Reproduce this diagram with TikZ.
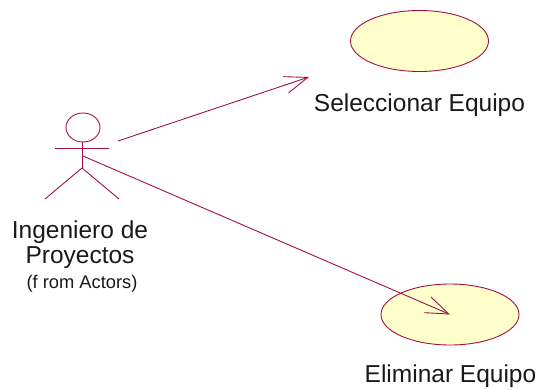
\documentclass[tikz,border=0pt]{standalone}
\usepackage{fontspec}
\setmainfont{Liberation Sans}
\usetikzlibrary{positioning,arrows.meta,shapes.geometric}
\definecolor{umlline}{HTML}{A50F45}
\definecolor{umlfill}{HTML}{FFFFCC}
\newcommand{\UseCaseRx}{69pt}
\newcommand{\UseCaseRy}{30.5pt}
\tikzset{
	usecase/.style={ellipse,draw=umlline,fill=umlfill,line width=0.9pt,minimum width=2*\UseCaseRx,minimum height=2*\UseCaseRy,inner sep=0pt},
	umlname/.style={font=\fontsize{24.5}{25.5}\selectfont,text=black!90,align=center,inner sep=0pt},
	actorline/.style={draw=umlline,line width=0.9pt},
	assoc/.style={actorline,-{Straight Barb[length=23pt,width=17pt]}},
}
\begin{document}
\begin{tikzpicture}[x=1pt,y=-1pt]
		\useasboundingbox (0,0) rectangle (541,389);
		\node[usecase] (sel) at (419.5,41) {};
		\node[usecase] (eli) at (450,314.5) {};
		\node[umlname] (sellabel) at (419.5,105) {Seleccionar Equipo};
		\node[umlname] (elilabel) at (450.5,376.5) {Eliminar Equipo};
		% actor
		\node[draw=umlline,line width=0.9pt,ellipse,minimum width=34pt,minimum height=29pt,inner sep=0pt] (head) at (83,127.5) {};
		\coordinate (hip) at (82,168);
		\coordinate (armleft) at (55,148.5);
		\coordinate (armright) at (109,148.5);
		\coordinate (footleft) at (45,199);
		\coordinate (footright) at (119,199);
		\draw[actorline] (82,141.5) -- (hip);
		\draw[actorline] (armleft) -- (armright);
		\draw[actorline] (footleft) -- (hip) -- (footright);
		\node[umlname] (actorlabel) at (80,244.5) {Ingeniero de\\Proyectos};
		\node[font=\fontsize{18.3}{20}\selectfont,text=black!90,inner sep=0pt,below=6.5pt of actorlabel,xshift=2pt] (actorfrom) {(f rom Actors)};
		% associations
		\coordinate (selstart) at (118,141);
		\coordinate (selend) at (309,77);
		\coordinate (elistart) at (83,156);
		\draw[assoc] (selstart) -- (selend);
		\draw[assoc] (elistart) -- (eli.center);
	\end{tikzpicture}
\end{document}
